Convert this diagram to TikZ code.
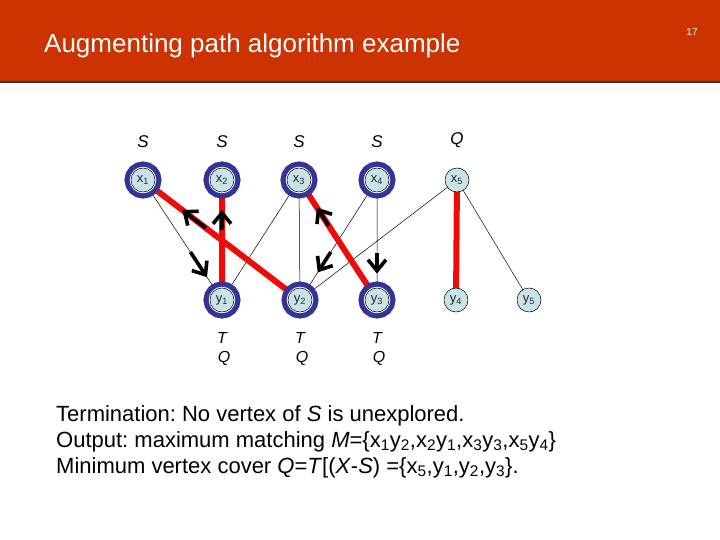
\documentclass[tikz,border=0pt]{standalone}
\usepackage{fontspec}
\setmainfont{Liberation Sans}
\usetikzlibrary{positioning, calc, arrows.meta}
\definecolor{bandred}{RGB}{204,51,0}
\definecolor{ringblue}{RGB}{51,51,153}
\definecolor{vertexfill}{RGB}{200,228,232}
\definecolor{matchred}{RGB}{240,10,10}
\pgfdeclarelayer{back}
\pgfsetlayers{back,main}
\frenchspacing

\tikzset{
    vertex/.style={circle, draw=black, line width=0.5pt, fill=vertexfill,
        minimum size=24pt, inner sep=0pt, text=black!85,
        font=\fontsize{13}{13}\selectfont},
    ringed/.style={vertex, preaction={draw=ringblue, line width=13pt},
        preaction={draw=white, line width=2.5pt}},
    tag/.style={inner sep=0pt, font=\fontsize{17}{17}\selectfont\itshape},
    smalltag/.style={inner sep=0pt, font=\fontsize{16}{16}\selectfont\itshape},
    summary/.style={anchor=base west, inner sep=0pt, font=\fontsize{22}{22}\selectfont},
    plainedge/.style={black, line width=0.5pt},
    pairing/.style={matchred, line width=6pt},
    trail/.style={-{Straight Barb[length=11pt,width=18pt,line width=3.6pt]}, line width=3.6pt}
}

\begin{document}
\begin{tikzpicture}[x=1pt, y=-1pt]
        \useasboundingbox (0,0) rectangle (720,540);

        % header
        \fill[bandred] (0,0) rectangle (720,82);
        \draw[black!80, line width=1.5pt] (0,82) -- (720,82);
        \node[anchor=base west, inner sep=0pt, text=white,
            font=\fontsize{26}{26}\selectfont] (title) at (44,53)
            {Augmenting path algorithm example};
        \node[text=white, inner sep=0pt, font=\fontsize{10}{10}\selectfont]
            (pagenum) at (692,32) {17};

        % vertices
        \node[ringed] (x1) at (143,180) {x\textsubscript{1}};
        \node[ringed] (x2) at (222,180) {x\textsubscript{2}};
        \node[ringed] (x3) at (299,180) {x\textsubscript{3}};
        \node[ringed] (x4) at (377,180) {x\textsubscript{4}};
        \node[vertex] (x5) at (457,180) {x\textsubscript{5}};

        \node[ringed] (y1) at (222,300) {y\textsubscript{1}};
        \node[ringed] (y2) at (300,300) {y\textsubscript{2}};
        \node[ringed] (y3) at (377,300) {y\textsubscript{3}};
        \node[vertex] (y4) at (456,300) {y\textsubscript{4}};
        \node[vertex] (y5) at (529,300) {y\textsubscript{5}};

        % S / T / Q marks
        \node[tag, above=20pt of x1] (s1) {S};
        \node[tag, above=20pt of x2] (s2) {S};
        \node[tag, above=20pt of x3] (s3) {S};
        \node[tag, above=20pt of x4] (s4) {S};
        \node[tag, above=20pt of x5] (q5) {Q};

        \node[smalltag, below=20pt of y1] (t1) {T};
        \node[smalltag, below=20pt of y2] (t2) {T};
        \node[smalltag, below=20pt of y3] (t3) {T};
        \node[smalltag, below=7pt of t1, xshift=2pt] (q1) {Q};
        \node[smalltag, below=7pt of t2, xshift=2pt] (q2) {Q};
        \node[smalltag, below=7pt of t3, xshift=2pt] (q3) {Q};

        % edges
        \begin{pgfonlayer}{back}
        \draw[plainedge]
            (x1.center) -- (y1.center)
            (x3.center) -- (y1.center)
            (x3.center) -- (y2.center)
            (x4.center) -- (y2.center)
            (x4.center) -- (y3.center)
            (x5.center) -- (y2.center)
            (x5.center) -- (y5.center);
        \draw[pairing]
            (x1.center) -- (y2.center)
            (x2.center) -- (y1.center)
            (x3.center) -- (y3.center)
            (x5.center) -- (y4.center);
        \end{pgfonlayer}

        % search direction
        \draw[trail] ($(x1)!0.60!(y1)$) -- ($(x1)!0.81!(y1)$);
        \draw[trail] ($(x1)!0.40!(y2)$) -- ($(x1)!0.25!(y2)$);
        \draw[trail] ($(y1)!0.58!(x2)$) -- ($(y1)!0.75!(x2)$);
        \draw[trail] ($(x3)!0.38!(y3)$) -- ($(x3)!0.23!(y3)$);
        \draw[trail] ($(x4)!0.60!(y2)$) -- ($(x4)!0.77!(y2)$);
        \draw[trail] ($(x4)!0.61!(y3)$) -- ($(x4)!0.78!(y3)$);

        % result
        \node[summary] (line1) at (56,421)
            {Termination: No vertex of \textit{S} is unexplored.};
        \node[summary] (line2) at (56,447)
            {Output: maximum matching \textit{M}=\{x\textsubscript{1}y\textsubscript{2},x\textsubscript{2}y\textsubscript{1},x\textsubscript{3}y\textsubscript{3},x\textsubscript{5}y\textsubscript{4}\}};
        \node[summary] (line3) at (56,473)
            {Minimum vertex cover \textit{Q}=\textit{T}[(\textit{X}-\textit{S}) =\{x\textsubscript{5},y\textsubscript{1},y\textsubscript{2},y\textsubscript{3}\}.};
\end{tikzpicture}
\end{document}
